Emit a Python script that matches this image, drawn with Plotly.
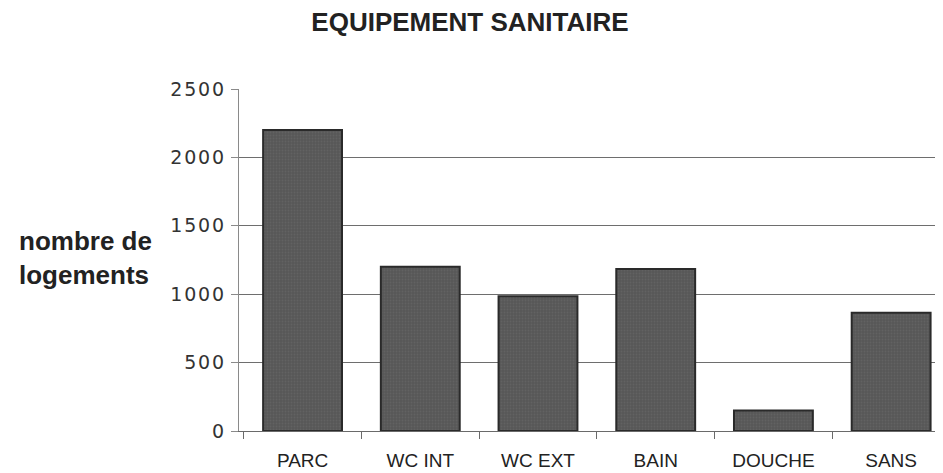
import plotly.graph_objects as go

categories = ["PARC", "WC INT", "WC EXT", "BAIN", "DOUCHE", "SANS"]
logements = [2200, 1200, 985, 1185, 150, 865]
y_ticks = [0, 500, 1000, 1500, 2000, 2500]

# the scan has loosely spaced digits, so hair spaces between them
y_labels = ["\u200a".join(str(v)) for v in y_ticks]

# page body has an 8px margin, so draw the figure shifted by 8px;
# the plot area runs a little past the right edge, as in the scan
W, H = 942, 465
OFF = 8

fig = go.Figure()
fig.add_trace(go.Bar(
    x=categories,
    y=logements,
    marker=dict(color="#575757", line=dict(color="#2a2a2a", width=2),
                pattern=dict(shape=".", fgcolor="#6e6e6e", size=3, solidity=0.3)),
    showlegend=False,
))

fig.update_layout(
    width=W, height=H,
    paper_bgcolor="white", plot_bgcolor="white",
    margin=dict(l=239 - OFF, r=0, t=89 - OFF, b=H - (431 - OFF), autoexpand=False),
    bargap=0.33,
    title=dict(text="<b>EQUIPEMENT SANITAIRE</b>", x=(470 - OFF) / W, xref="container", xanchor="center",
               y=1 - (22 - OFF) / H, yref="container", yanchor="middle",
               font=dict(family="Liberation Sans, Arial", size=26, color="#222")),
    font=dict(family="Liberation Sans, Arial", color="#333"),
)

fig.update_yaxes(
    range=[0, 2500], tickvals=y_ticks, ticktext=y_labels,
    showgrid=True, gridcolor="#6e6e6e", gridwidth=1.3,
    showline=True, linecolor="#8a8a8a", linewidth=1,
    ticks="outside", ticklen=7, tickcolor="#8a8a8a",
    tickfont=dict(family="DejaVu Sans", size=19, color="#333"),
    ticklabelstandoff=3,
    zeroline=False, automargin=False,
)
fig.update_xaxes(
    range=[-0.54, 5.5],
    showline=True, linecolor="#6a6a6a", linewidth=1,
    ticks="outside", tickson="boundaries", ticklen=7, tickcolor="#6a6a6a",
    tickfont=dict(family="Liberation Sans Narrow, Arial Narrow, Liberation Sans", size=19, color="#222"),
    ticklabelstandoff=12, automargin=False,
)

fig.add_annotation(
    text="<b>nombre de<br>logements</b>",
    xref="paper", yref="paper",
    x=(85 - 239) / 711, y=(431 - 258) / 342,
    xanchor="center", yanchor="middle", align="left",
    showarrow=False,
    font=dict(family="Liberation Sans, Arial", size=26, color="#222"),
)

fig.write_html("out.html")
